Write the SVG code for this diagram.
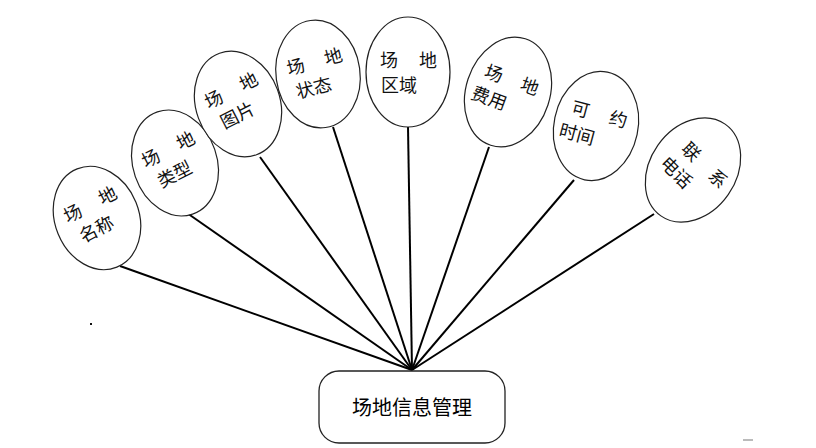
<svg xmlns="http://www.w3.org/2000/svg" width="816" height="448" viewBox="0 0 816 448">
<style>
.e{fill:#fff;stroke:#222;stroke-width:1.2}
.t{font-family:"Noto Sans CJK SC","Noto Sans CJK JP",sans-serif;font-size:18px;fill:#111}
.c{stroke:#000;stroke-width:2;fill:none}
.box{fill:#fff;stroke:#222;stroke-width:1.3}
.bt{font-family:"Noto Sans CJK SC","Noto Sans CJK JP",sans-serif;font-size:20px;fill:#000;text-anchor:middle}
</style>
<rect width="816" height="448" fill="#fff"/>
<g id="connectors">
<line class="c" x1="120" y1="266" x2="412" y2="370"/>
<line class="c" x1="187" y1="213" x2="412" y2="370"/>
<line class="c" x1="260" y1="157" x2="412" y2="370"/>
<line class="c" x1="333" y1="127" x2="412" y2="370"/>
<line class="c" x1="408" y1="127" x2="412" y2="370"/>
<line class="c" x1="489" y1="147" x2="412" y2="370"/>
<line class="c" x1="574" y1="180" x2="412" y2="370"/>
<line class="c" x1="654" y1="214" x2="412" y2="370"/>
</g>
<g id="n1">
<ellipse class="e" cx="97" cy="218" rx="42" ry="53" transform="rotate(-22 97 218)"/>
<g transform="translate(95 215) rotate(-27)"><text class="t" x="-28" y="-5">场</text><text class="t" x="11" y="-5">地</text><text class="t" x="-23" y="20">名称</text></g>
</g>
<g id="n2">
<ellipse class="e" cx="175" cy="163" rx="42" ry="54" transform="rotate(-19 175 163)"/>
<g transform="translate(173 160) rotate(-27)"><text class="t" x="-28" y="-5">场</text><text class="t" x="11" y="-5">地</text><text class="t" x="-23" y="20">类型</text></g>
</g>
<g id="n3">
<ellipse class="e" cx="238" cy="104" rx="42" ry="54" transform="rotate(-20 238 104)"/>
<g transform="translate(236 101) rotate(-27)"><text class="t" x="-28" y="-5">场</text><text class="t" x="11" y="-5">地</text><text class="t" x="-23" y="20">图片</text></g>
</g>
<g id="n4">
<ellipse class="e" cx="318" cy="74" rx="42" ry="54" transform="rotate(-8 318 74)"/>
<g transform="translate(317 73) rotate(-15)"><text class="t" x="-28" y="-5">场</text><text class="t" x="11" y="-5">地</text><text class="t" x="-25" y="20">状态</text></g>
</g>
<g id="n5">
<ellipse class="e" cx="408" cy="72" rx="42" ry="55"/>
<g transform="translate(408 72)"><text class="t" x="-28" y="-5">场</text><text class="t" x="11" y="-5">地</text><text class="t" x="-27" y="20">区域</text></g>
</g>
<g id="n6">
<ellipse class="e" cx="508" cy="92" rx="42" ry="56" transform="rotate(18 508 92)"/>
<g transform="translate(506 90) rotate(20)"><text class="t" x="-26" y="-5">场</text><text class="t" x="12" y="-5">地</text><text class="t" x="-31" y="20">费用</text></g>
</g>
<g id="n7">
<ellipse class="e" cx="596" cy="126" rx="42" ry="55" transform="rotate(12 596 126)"/>
<g transform="translate(595 125) rotate(15)"><text class="t" x="-27" y="-5">可</text><text class="t" x="12" y="-5">约</text><text class="t" x="-33" y="20">时间</text></g>
</g>
<g id="n8">
<ellipse class="e" cx="693" cy="170" rx="43" ry="56" transform="rotate(35 693 170)"/>
<g transform="translate(695 172) rotate(45)"><text class="t" x="-26" y="-5">联</text><text class="t" x="12" y="-5">系</text><text class="t" x="-31" y="20">电话</text></g>
</g>
<g id="n0">
<rect class="box" x="319" y="371" width="186" height="72" rx="20" ry="20"/>
<text class="bt" x="412" y="415">场地信息管理</text>
</g>
<rect x="90" y="323" width="2" height="2" fill="#111"/>
<rect x="743" y="439" width="10" height="2" fill="#bbb"/>
</svg>
